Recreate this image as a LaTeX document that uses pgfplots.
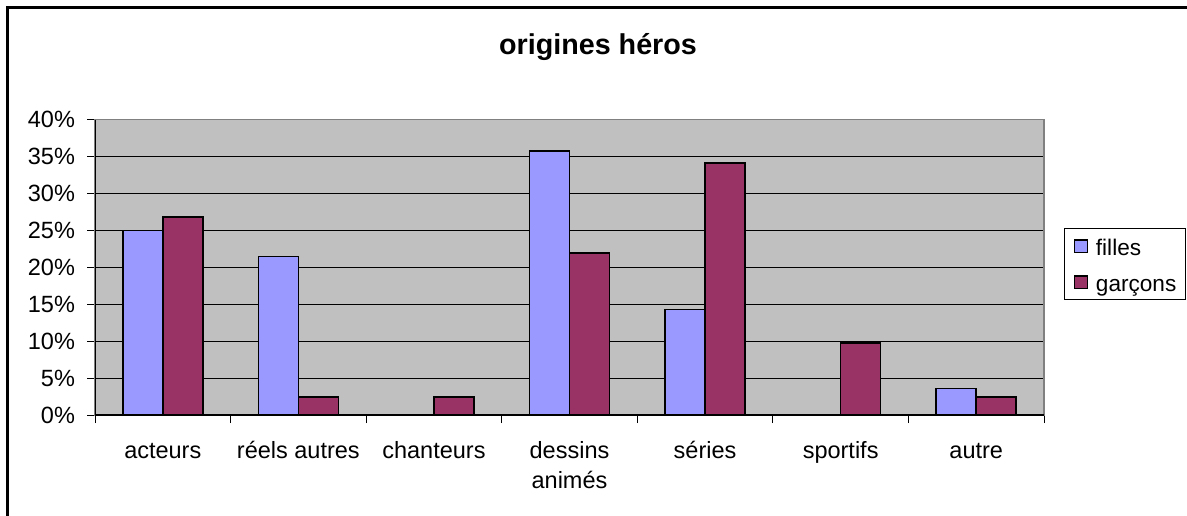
\documentclass[border=0pt]{standalone}
\usepackage{pgfplots}
\pgfplotsset{compat=1.18}
\usepackage{fontspec}
\setmainfont{Liberation Sans}
\definecolor{filles}{HTML}{9999FF}
\definecolor{garcons}{HTML}{993366}
\definecolor{plotbg}{HTML}{C0C0C0}
\definecolor{framegray}{HTML}{808080}
\newcommand{\lstrut}{\rule[-2.8pt]{0pt}{13.3pt}}
\begin{document}
\begin{tikzpicture}
\useasboundingbox (0,0) rectangle (593.5pt,-257.5pt);
\fill[white] (0,0) rectangle (593.5pt,-257.5pt);
\begin{scope}
\clip (0,0) rectangle (593.5pt,-257.5pt);
\draw[black, line width=1.3pt] (3.6pt,-3.8pt) rectangle (620pt,-280pt);
\end{scope}
\node[anchor=base, inner sep=0pt, font=\fontsize{14.35}{17}\selectfont\bfseries] at (299pt,-27pt) {origines héros};
\begin{axis}[
  at={(47.5pt,-207.5pt)}, anchor=south west,
  width=474.5pt, height=147.75pt, scale only axis,
  xmin=-0.5, xmax=6.5, ymin=0, ymax=40,
  axis background/.style={fill=plotbg},
  axis line style={draw=framegray, line width=0.6pt},
  ybar=0pt, bar width=20pt,
  xtick={0,...,6},
  xticklabels={\strut acteurs, \strut réels autres, \strut chanteurs, \strut dessins\\animés, \strut séries, \strut sportifs, \strut autre},
  xticklabel style={align=center, font=\fontsize{11.75}{15}\selectfont, yshift=-3.5pt},
  major x tick style={draw=none},
  minor xtick={-0.5,0.5,...,6.5},
  minor tick length=4pt, major tick length=4pt, tick align=outside,
  tick style={black, line width=0.5pt},
  ytick={0,5,...,40},
  yticklabels={0\%,5\%,10\%,15\%,20\%,25\%,30\%,35\%,40\%},
  yticklabel style={font=\fontsize{11.75}{14}\selectfont, xshift=-2.5pt},
  ymajorgrids, grid style={black, line width=0.5pt},
  xtick pos=bottom, ytick pos=left,
  legend entries={\lstrut filles, \lstrut garçons},
  legend style={at={(1.0211,0.632)}, anchor=north west, draw=black, line width=0.5pt,
    font=\fontsize{11.3}{14}\selectfont, nodes={inner sep=0pt},
    row sep=6pt, column sep=4pt, inner xsep=4.5pt, inner ysep=2.7pt},
  legend cell align=left,
  legend image code/.code={\draw[#1, draw=black, line width=0.6pt] (0pt,-3.1pt) rectangle (6.6pt,3.1pt);},
]
\addplot[fill=filles, draw=black, line width=0.8pt] coordinates {(0,25) (1,21.43) (3,35.71) (4,14.29) (6,3.57)};
\addplot[fill=garcons, draw=black, line width=0.8pt] coordinates {(0,26.83) (1,2.44) (2,2.44) (3,21.95) (4,34.15) (5,9.76) (6,2.44)};
\draw[black, line width=0.6pt] (rel axis cs:0,1) -- (rel axis cs:0,0) -- (rel axis cs:1,0);
\end{axis}
\end{tikzpicture}
\end{document}
